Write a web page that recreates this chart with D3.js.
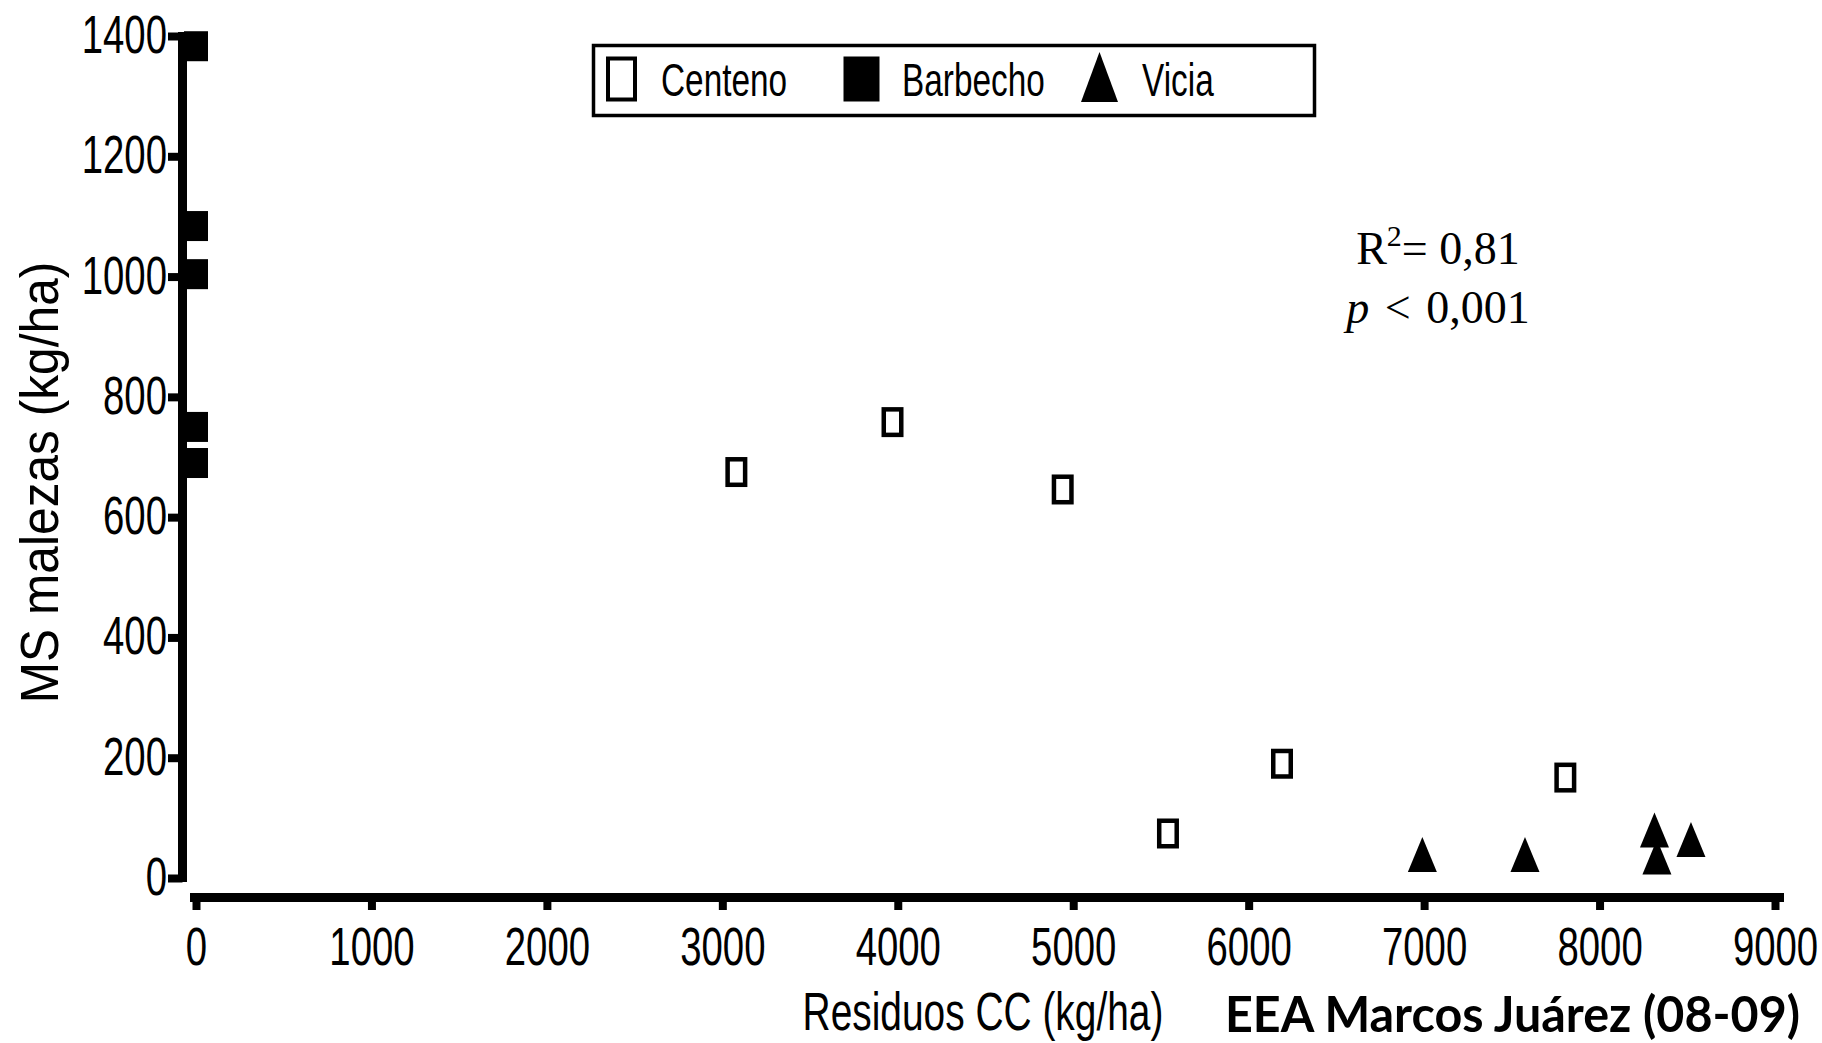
<!DOCTYPE html>
<html>
<head>
<meta charset="utf-8">
<script src="https://cdn.jsdelivr.net/npm/d3@7"></script>
<style>
  html, body { margin: 0; padding: 0; background: #fff; }
  svg { display: block; }
</style>
</head>
<body>
<svg id="chart" width="1822" height="1043"></svg>
<script>
// Weed dry matter vs. cover-crop residue — EEA Marcos Juárez, 2008-09

const seriesNames = ["Centeno", "Barbecho", "Vicia"];

const centenoResiduos = [3080, 3970, 4940, 5540, 6190, 7805];
const centenoMalezas  = [675, 758, 646, 74, 190, 167];

const barbechoResiduos = [0, 0, 0, 0, 0];
const barbechoMalezas  = [1383, 1084, 1004, 750, 690];

const viciaResiduos = [6990, 7575, 8313, 8327, 8521];
const viciaMalezas  = [39, 39, 80, 35, 64];

const xTicks = [0, 1000, 2000, 3000, 4000, 5000, 6000, 7000, 8000, 9000];
const yTicks = [0, 200, 400, 600, 800, 1000, 1200, 1400];

const xTitle = "Residuos CC (kg/ha)";
const yTitle = "MS malezas (kg/ha)";
const rSquared = "0,81";
const pValue = "0,001";
const siteLabel = "EEA Marcos Juárez (08-09)";

// ---- layout ----
const svg = d3.select("#chart");
const SANS = "'Liberation Sans', Arial, sans-serif";
const SQUEEZE = 0.71;   // condensed look of the axis lettering

const x = d3.scaleLinear().domain([0, 9000]).range([196, 1775]);
const y = d3.scaleLinear().domain([0, 1400]).range([878, 36]);

const yAxisX = 182.5;
const xAxisY = 897.5;

// ---- Y axis ----
const gy = svg.append("g").attr("transform", `translate(${yAxisX},0)`)
  .call(d3.axisLeft(y).tickValues(yTicks).tickSize(14.5).tickSizeOuter(0).tickFormat(d3.format("d")));
gy.select(".domain").remove();
gy.selectAll(".tick line").attr("stroke", "#000").attr("stroke-width", 8);
gy.selectAll(".tick text")
  .attr("x", null).attr("dy", null)
  .attr("transform", `translate(-15.5,16.5) scale(${SQUEEZE},1)`)
  .attr("text-anchor", "end")
  .attr("fill", "#000")
  .style("font-family", SANS).style("font-size", "54px");
svg.append("line")
  .attr("x1", yAxisX).attr("x2", yAxisX)
  .attr("y1", y(1400) - 4).attr("y2", y(0) + 4)
  .attr("stroke", "#000").attr("stroke-width", 9);

// ---- X axis ----
const gx = svg.append("g").attr("transform", `translate(0,${xAxisY})`)
  .call(d3.axisBottom(x).tickValues(xTicks).tickSize(12.5).tickSizeOuter(0).tickFormat(d3.format("d")));
gx.select(".domain").remove();
gx.selectAll(".tick line").attr("stroke", "#000").attr("stroke-width", 8);
gx.selectAll(".tick text")
  .attr("y", null).attr("dy", null)
  .attr("transform", `translate(0,67.5) scale(${SQUEEZE},1)`)
  .attr("text-anchor", "middle")
  .attr("fill", "#000")
  .style("font-family", SANS).style("font-size", "54px");
svg.append("line")
  .attr("x1", x(0) - 6).attr("x2", x(9000) + 9)
  .attr("y1", xAxisY).attr("y2", xAxisY)
  .attr("stroke", "#000").attr("stroke-width", 9);
svg.selectAll(".tick").attr("font-family", null).attr("font-size", null);

// ---- axis titles ----
svg.append("text")
  .attr("transform", `translate(983,1030) scale(0.72,1)`)
  .attr("text-anchor", "middle")
  .style("font-family", SANS).style("font-size", "54px")
  .text(xTitle);

svg.append("text")
  .attr("transform", `translate(58,482.5) rotate(-90) scale(0.92,1)`)
  .attr("text-anchor", "middle")
  .style("font-family", SANS).style("font-size", "54px")
  .text(yTitle);

// ---- markers ----
function triPath(cx, cy, w, h) {
  return `M${cx},${cy - h / 2}L${cx + w / 2},${cy + h / 2}L${cx - w / 2},${cy + h / 2}Z`;
}

const centeno = centenoResiduos.map((v, i) => ({ x: v, y: centenoMalezas[i] }));
const barbecho = barbechoResiduos.map((v, i) => ({ x: v, y: barbechoMalezas[i] }));
const vicia = viciaResiduos.map((v, i) => ({ x: v, y: viciaMalezas[i] }));

const SQ_W = 22, SQ_H = 30, SQ_SW = 4.5;
svg.append("g").selectAll("rect").data(centeno).join("rect")
  .attr("x", d => x(d.x) - (SQ_W - SQ_SW) / 2)
  .attr("y", d => y(d.y) - (SQ_H - SQ_SW) / 2)
  .attr("width", SQ_W - SQ_SW).attr("height", SQ_H - SQ_SW)
  .attr("fill", "#fff").attr("stroke", "#000").attr("stroke-width", SQ_SW);

svg.append("g").selectAll("rect").data(barbecho).join("rect")
  .attr("x", d => x(d.x) - 12).attr("y", d => y(d.y) - 15)
  .attr("width", 24).attr("height", 30)
  .attr("fill", "#000");

svg.append("g").selectAll("path").data(vicia).join("path")
  .attr("d", d => triPath(x(d.x), y(d.y), 29, 35))
  .attr("fill", "#000");

// ---- legend ----
const legend = svg.append("g");
legend.append("rect")
  .attr("x", 593.5).attr("y", 45.5).attr("width", 721).attr("height", 70)
  .attr("fill", "#fff").attr("stroke", "#000").attr("stroke-width", 3.5);

const legendItems = [
  { name: seriesNames[0], cx: 621.5, tx: 661 },
  { name: seriesNames[1], cx: 861.5, tx: 902 },
  { name: seriesNames[2], cx: 1099.5, tx: 1142 }
];
const LEG_CY = 79;
legend.append("rect")
  .attr("x", legendItems[0].cx - 13.5).attr("y", LEG_CY - 20.5)
  .attr("width", 27).attr("height", 41)
  .attr("fill", "#fff").attr("stroke", "#000").attr("stroke-width", 4);
legend.append("rect")
  .attr("x", legendItems[1].cx - 18).attr("y", LEG_CY - 22.5)
  .attr("width", 36).attr("height", 45).attr("fill", "#000");
legend.append("path")
  .attr("d", triPath(legendItems[2].cx, LEG_CY - 2, 37, 50))
  .attr("fill", "#000");
legend.selectAll("text.lbl").data(legendItems).join("text")
  .attr("class", "lbl")
  .attr("transform", d => `translate(${d.tx},96) scale(${SQUEEZE},1)`)
  .style("font-family", SANS).style("font-size", "47px")
  .text(d => d.name);

// ---- fit statistics ----
const stats = svg.append("g")
  .style("font-family", "'Liberation Serif', 'Times New Roman', serif")
  .style("font-size", "46px");
const l1 = stats.append("text").attr("x", 1438).attr("y", 264).attr("text-anchor", "middle");
l1.append("tspan").text("R");
l1.append("tspan").attr("dy", -18).style("font-size", "30px").text("2");
l1.append("tspan").attr("dy", 18).text("= " + rSquared);
const l2 = stats.append("text").attr("x", 1438).attr("y", 323).attr("text-anchor", "middle")
  .attr("word-spacing", 4);
l2.append("tspan").style("font-style", "italic").text("p");
l2.append("tspan").text(" < " + pValue);

// ---- site label ----
svg.append("text")
  .attr("x", 1225).attr("y", 1032)
  .attr("textLength", 575).attr("lengthAdjust", "spacingAndGlyphs")
  .style("font-family", "Lato, 'Open Sans', sans-serif")
  .style("font-weight", 700).style("font-size", "49px")
  .text(siteLabel);
</script>
</body>
</html>
